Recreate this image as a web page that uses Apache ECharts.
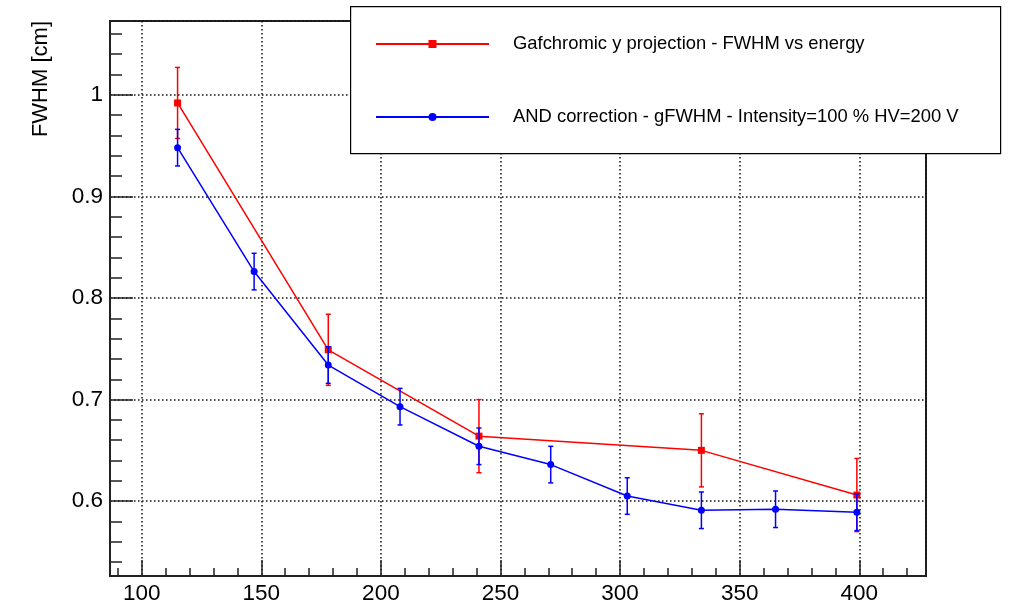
<!DOCTYPE html>
<html>
<head>
<meta charset="utf-8">
<script src="https://cdn.jsdelivr.net/npm/echarts@6/dist/echarts.min.js"></script>
<style>
html,body{margin:0;padding:0;background:#fff;}
#chart{width:1010px;height:605px;}
</style>
</head>
<body>
<div id="chart"></div>
<script>
// ---- data ----
const energyRed = [115, 178, 241, 334, 399];
const fwhmRed   = [0.992, 0.749, 0.664, 0.650, 0.606];
const errRed    = [0.035, 0.035, 0.036, 0.036, 0.036];

const energyBlue = [115, 147, 178, 208, 241, 271, 303, 334, 365, 399];
const fwhmBlue   = [0.948, 0.826, 0.734, 0.693, 0.654, 0.636, 0.605, 0.591, 0.592, 0.589];
const errBlue    = [0.018, 0.018, 0.018, 0.018, 0.018, 0.018, 0.018, 0.018, 0.018, 0.018];

const nameRed  = 'Gafchromic y projection - FWHM vs energy';
const nameBlue = 'AND correction - gFWHM - Intensity=100 % HV=200 V';
const yTitle = 'FWHM [cm]';

const RED = '#ff0000', BLUE = '#0000ff';
const FONT = 'Liberation Sans, Arial, Helvetica, sans-serif';

function pts(xs, ys) { return xs.map((x, i) => [x, ys[i]]); }
function errPts(xs, ys, es) { return xs.map((x, i) => [x, ys[i], es[i]]); }

function errRender(color) {
  return function (params, api) {
    const x = api.value(0), y = api.value(1), e = api.value(2);
    const t = api.coord([x, y + e]);
    const b = api.coord([x, y - e]);
    const c = 2.5;
    const st = { stroke: color, lineWidth: 1.5 };
    return {
      type: 'group',
      children: [
        { type: 'line', shape: { x1: t[0], y1: t[1], x2: b[0], y2: b[1] }, style: st },
        { type: 'line', shape: { x1: t[0] - c, y1: t[1], x2: t[0] + c, y2: t[1] }, style: st },
        { type: 'line', shape: { x1: b[0] - c, y1: b[1], x2: b[0] + c, y2: b[1] }, style: st }
      ]
    };
  };
}

const chart = echarts.init(document.getElementById('chart'), null, { renderer: 'canvas' });

const axisCommon = {
  axisLine: { show: true, onZero: false, lineStyle: { color: '#222', width: 2 } },
  splitLine: { show: true, lineStyle: { color: '#111', width: 1.5, type: [1.5, 2.5] } },
  minorSplitLine: { show: false }
};

chart.setOption({
  animation: false,
  backgroundColor: '#fff',
  textStyle: { fontFamily: FONT },
  grid: { left: 110, top: 21, right: 84, bottom: 28, show: true, borderColor: '#222', borderWidth: 2, backgroundColor: 'transparent' },
  xAxis: Object.assign({}, axisCommon, {
    type: 'value',
    min: 86.75, max: 427.9,
    splitNumber: 6,
    axisTick: { show: true, inside: true, length: 16, lineStyle: { color: '#222', width: 1.5 } },
    minorTick: { show: true, splitNumber: 5, length: 8, lineStyle: { color: '#222', width: 1.5 } },
    axisLabel: { showMinLabel: false, showMaxLabel: false, fontSize: 22.5, color: '#000', margin: 6, fontFamily: FONT }
  }),
  yAxis: Object.assign({}, axisCommon, {
    type: 'value',
    min: 0.5263, max: 1.0727,
    splitNumber: 5,
    axisTick: { show: true, inside: true, length: 23, lineStyle: { color: '#222', width: 1.5 } },
    minorTick: { show: true, splitNumber: 5, length: 12, lineStyle: { color: '#222', width: 1.5 } },
    axisLabel: { showMinLabel: false, showMaxLabel: false, fontSize: 22.5, color: '#000', margin: 7, fontFamily: FONT,
      formatter: v => String(Math.round(v * 10) / 10) }
  }),
  legend: {
    orient: 'vertical',
    left: 370, top: 30,
    itemWidth: 113, itemHeight: 10,
    itemGap: 55,
    data: [nameRed, nameBlue],
    textStyle: { fontSize: 18.4, color: '#000', fontFamily: FONT, padding: [0, 0, 0, 19] },
    z: 20
  },
  graphic: [
    { type: 'rect', left: 350, top: 6, z: 10, shape: { width: 650, height: 147 },
      style: { fill: '#fff', stroke: '#000', lineWidth: 1.2 } },
    { type: 'text', x: 41, y: 21, rotation: Math.PI / 2,
      style: { text: yTitle, fontSize: 22, fontFamily: FONT, fill: '#000', align: 'right', verticalAlign: 'middle' } }
  ],
  series: [
    { name: nameRed + ' err', type: 'custom', renderItem: errRender(RED), data: errPts(energyRed, fwhmRed, errRed),
      encode: { x: 0, y: 1 }, z: 2, silent: true },
    { name: nameRed, type: 'line', data: pts(energyRed, fwhmRed), symbol: 'rect', symbolSize: 7,
      itemStyle: { color: RED }, lineStyle: { color: RED, width: 1.5 }, z: 3 },
    { name: nameBlue + ' err', type: 'custom', renderItem: errRender(BLUE), data: errPts(energyBlue, fwhmBlue, errBlue),
      encode: { x: 0, y: 1 }, z: 4, silent: true },
    { name: nameBlue, type: 'line', data: pts(energyBlue, fwhmBlue), symbol: 'circle', symbolSize: 7,
      itemStyle: { color: BLUE }, lineStyle: { color: BLUE, width: 1.5 }, z: 5 }
  ]
});
</script>
</body>
</html>
